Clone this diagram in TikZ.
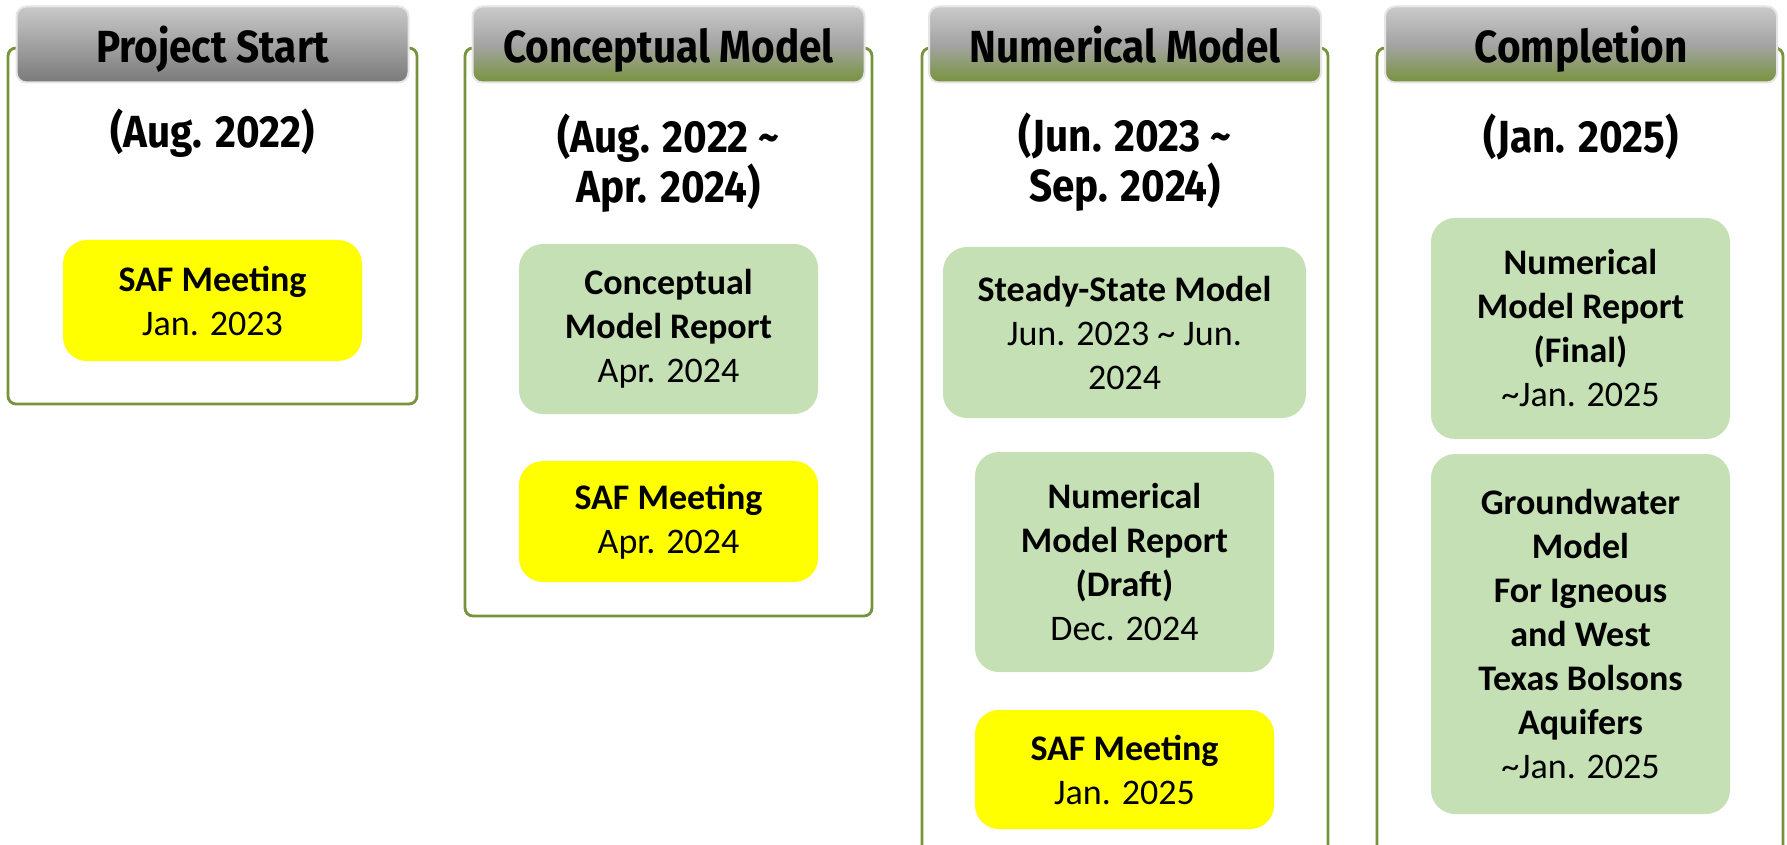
\documentclass[tikz,border=0pt]{standalone}
\usepackage{fontspec}
\setmainfont{Carlito}
\newfontfamily\dinfont[FakeStretch=0.9]{Fira Sans}

\definecolor{framegreen}{HTML}{77933C}
\definecolor{headtop}{HTML}{C9C9C9}
\definecolor{headmid}{HTML}{A4A4A4}
\definecolor{headgrey}{HTML}{7A7A7A}
\definecolor{boxgreen}{HTML}{C5E0B4}
\definecolor{boxyellow}{HTML}{FFFF00}

\tikzset{
  frame/.style={draw=framegreen, line width=1.4pt, rounded corners=4pt},
  headbox/.style={rounded corners=5pt, draw=black!10, line width=1pt,
    minimum width=196pt, minimum height=38pt, text height=18.5pt, text depth=0pt,
    font=\dinfont\bfseries\fontsize{22.5}{25}\selectfont},
  greyhead/.style={headbox, top color=headtop, bottom color=headgrey},
  greenhead/.style={headbox, top color=headtop, bottom color=framegreen, middle color=headmid},
  datetext/.style={align=center, font=\dinfont\bfseries\fontsize{22.5}{25}\selectfont},
  stepbox/.style={rounded corners=12pt, align=center, minimum width=149.5pt,
    font=\fontsize{18}{22}\selectfont},
  greenbox/.style={stepbox, fill=boxgreen},
  yellowbox/.style={stepbox, fill=boxyellow}
}

\begin{document}
\begin{tikzpicture}[x=0.5pt, y=-0.5pt]
\useasboundingbox (0,0) rectangle (1787,845);

% cadres des quatre phases
\draw[frame] (8,48) rectangle (417,404);
\draw[frame] (465,48) rectangle (872,616);
\draw[frame] (922,845) |- (1328,48) -- (1328,845);
\draw[frame] (1377,845) |- (1783,48) -- (1783,845);

% en-tetes
\node[greyhead] (head1) at (212.5,44.5) {Project Start};
\node[greenhead] (head2) at (668.5,44.5) {Conceptual Model};
\node[greenhead] (head3) at (1125,44.5) {Numerical Model};
\node[greenhead] (head4) at (1581,44.5) {Completion};

% periodes
\node[datetext] (date1) at (212.5,133) {(Aug. 2022)};
\node[datetext] (date2) at (668.5,163) {(Aug. 2022 \textasciitilde\\ Apr. 2024)};
\node[datetext] (date3) at (1125,162) {(Jun. 2023 \textasciitilde\\ Sep. 2024)};
\node[datetext] (date4) at (1581,137) {(Jan. 2025)};

% phase 1
\node[yellowbox, minimum height=60.5pt] (saf1) at (212.5,300.5)
  {\textbf{SAF Meeting}\\ Jan. 2023};

% phase 2
\node[greenbox, minimum height=85pt] (report2) at (668.5,329)
  {\textbf{Conceptual}\\ \textbf{Model Report}\\ Apr. 2024};
\node[yellowbox, minimum height=60.5pt] (saf2) at (668.5,521.5)
  {\textbf{SAF Meeting}\\ Apr. 2024};

% phase 3
\node[greenbox, minimum width=181.5pt, minimum height=85.5pt] (steady3) at (1124.5,332.5)
  {\textbf{Steady-State Model}\\ Jun. 2023 \textasciitilde{} Jun.\\ 2024};
\node[greenbox, minimum height=110pt] (draft3) at (1124.5,562)
  {\textbf{Numerical}\\ \textbf{Model Report}\\ \textbf{(Draft)}\\ Dec. 2024};
\node[yellowbox, minimum height=59.5pt] (saf3) at (1124.5,769.5)
  {\textbf{SAF Meeting}\\ Jan. 2025};

% phase 4
\node[greenbox, minimum height=110.5pt] (final4) at (1580.5,328.5)
  {\textbf{Numerical}\\ \textbf{Model Report}\\ \textbf{(Final)}\\ \textasciitilde Jan. 2025};
\node[greenbox, minimum height=180pt] (gam4) at (1580.5,634)
  {\textbf{Groundwater}\\ \textbf{Model}\\ \textbf{For Igneous}\\ \textbf{and West}\\
   \textbf{Texas Bolsons}\\ \textbf{Aquifers}\\ \textasciitilde Jan. 2025};

\end{tikzpicture}
\end{document}
